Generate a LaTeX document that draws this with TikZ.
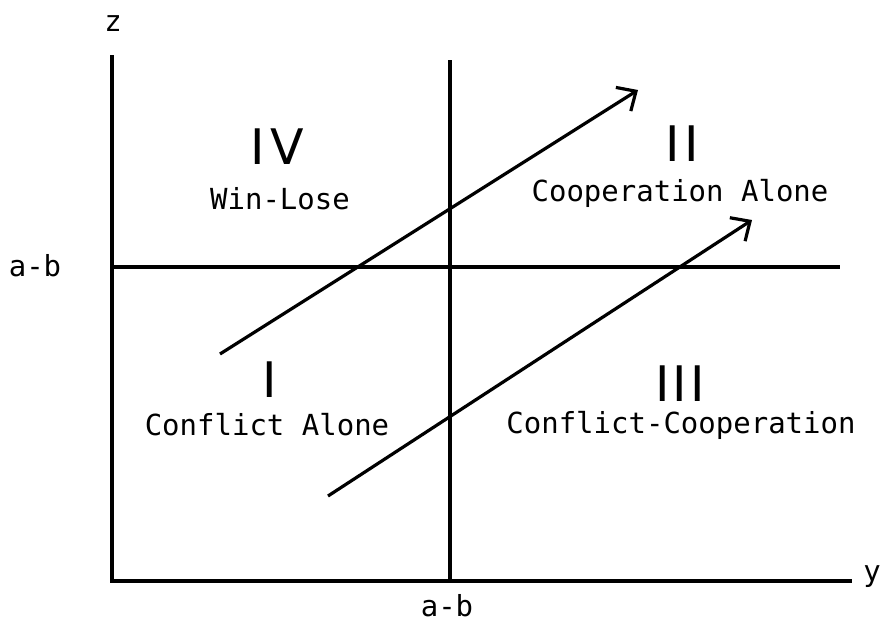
\documentclass[tikz,border=0pt]{standalone}
\usepackage{fontspec}
\setmainfont{DejaVu Sans Mono}
\newfontfamily\numfont{DejaVu Sans}
\usetikzlibrary{arrows.meta}
\begin{document}
\begin{tikzpicture}[x=1pt,y=-1pt,
  axis/.style={line width=3.2pt},
  flow/.style={line width=3.2pt,-{Straight Barb[length=15pt,width=28pt,line width=3.2pt]}},
  lbl/.style={font=\fontsize{29}{32}\selectfont,inner sep=0pt},
  roman/.style={font=\numfont\fontsize{49}{52}\selectfont,inner sep=0pt}]
\useasboundingbox (0,0) rectangle (881,624);
\coordinate (ztop) at (112,55);
\coordinate (origin) at (112,581);
\coordinate (yend) at (852,581);
\coordinate (mtop) at (450,60);
\coordinate (mbot) at (450,581);
\coordinate (hl) at (112,267);
\coordinate (hr) at (840,267);
\coordinate (t1) at (220,354);
\coordinate (h1) at (638,90);
\coordinate (t2) at (328,496);
\coordinate (h2) at (752,220);
\draw[axis] (ztop) -- (origin) -- (yend);
\draw[axis] (mtop) -- (mbot);
\draw[axis] (hl) -- (hr);
\draw[flow] (t1) -- (h1);
\draw[flow] (t2) -- (h2);
\node[lbl] (z) at (113,24) {z};
\node[lbl] (y) at (872,577) {y};
\node[lbl] (ab1) at (35,266) {a-b};
\node[lbl] (ab2) at (447,606) {a-b};
\node[roman] (q4) at (277,147) {I\kern6pt V};
\node[lbl] (q4t) at (280,199) {Win-Lose};
\node[roman] (q2) at (682,144) {I\kern5pt I};
\node[lbl] (q2t) at (680,193) {Cooperation Alone};
\node[roman] (q1) at (270,380) {I};
\node[lbl] (q1t) at (267,425) {Conflict Alone};
\node[roman] (q3) at (680,384) {I\kern3pt I\kern3pt I};
\node[lbl] (q3t) at (681,425) {Conflict-Cooperation};
\end{tikzpicture}
\end{document}
